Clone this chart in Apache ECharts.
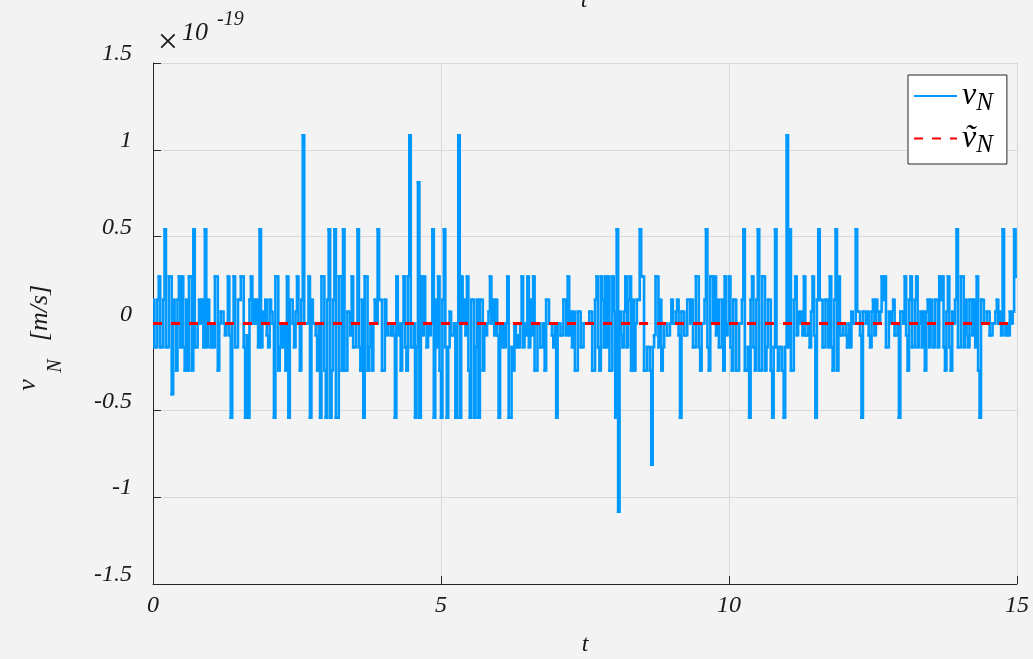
<!DOCTYPE html>
<html><head><meta charset="utf-8">
<script src="https://cdn.jsdelivr.net/npm/echarts@6/dist/echarts.min.js"></script>
<style>html,body{margin:0;padding:0;background:#f3f3f3}#c{width:1033px;height:659px}</style>
</head><body><div id="c"></div>
<script>
// sample period of the plotted signal (s); each sample is read as two half-sample levels
const dt = 0.05;
// v_N, first half of each sample (units of 1e-19 m/s)
const vA = [
 .136,-.136,.271,-.136,.542,-.136,.271,.136,-.271,.271,
 .271,-.271,-.271,.271,.542,-.136,.136,.136,.542,.136,
 -.136,-.136,.271,0,.068,-.068,.271,-.542,.271,-.136,
 .136,.271,-.542,-.542,.271,.136,.136,.542,.068,.136,
 -.136,.068,-.542,.271,-.136,-.136,-.271,-.542,.136,-.136,
 .271,-.271,1.084,0,.271,.136,0,-.271,-.542,.271,
 -.542,.542,-.271,.542,-.542,.271,.542,-.271,.068,.271,
 -.136,.542,-.271,-.542,.271,-.136,-.271,.136,.542,.136,
 -.271,-.068,0,0,-.542,-.068,-.271,.271,-.271,1.084,
 -.136,-.542,.813,.271,.271,-.136,-.068,.542,.136,.271,
 -.542,.542,-.542,.068,-.068,-.542,1.084,.271,.136,.271,
 -.542,.136,-.136,-.542,.136,0,0,.271,.136,.136,
 -.542,-.136,-.136,.271,-.542,-.271,-.136,-.136,.271,0,
 .271,.136,.271,-.271,0,-.136,-.271,.136,0,-.136,
 -.542,0,-.068,.136,.271,.068,.068,-.271,.068,-.136,
 0,0,.068,-.271,.271,-.271,.136,.271,.271,-.271,
 .068,.542,.068,-.136,.271,.136,-.271,-.271,.136,.542,
 .271,-.271,-.136,-.813,-.068,.271,.136,-.136,0,-.068,
 .136,0,.136,-.542,.068,-.068,.136,.136,-.136,.271,
 -.271,0,.542,-.271,.271,.271,.136,-.136,-.271,-.068,
 .271,-.271,.136,-.271,0,.542,-.271,-.542,.271,-.271,
 .542,-.271,.271,-.136,.136,-.542,.542,-.271,-.136,-.542,
 1.084,.542,-.271,.271,.068,.068,.271,-.068,-.136,.271,
 -.542,.542,.136,-.136,.136,.271,-.271,.542,.271,-.068,
 0,-.136,-.136,0,.542,.068,-.542,.068,.068,-.136,
 .136,.136,0,.271,.271,-.136,0,.136,-.068,-.542,
 .068,.271,-.271,.271,-.136,.271,0,-.136,-.271,.136,
 .136,-.136,.136,.271,.271,-.271,.271,-.271,0,.542,
 -.136,.271,.136,-.136,.136,.136,.271,-.542,.136,0,
 .068,-.068,0,.136,.068,.542,-.068,-.068,0,.542,
 .271
];
// v_N, second half of each sample (units of 1e-19 m/s)
const vB = [
 -.136,.136,-.136,.136,-.136,.271,-.407,0,.136,-.136,
 -.136,.136,.271,-.271,-.136,0,0,-.136,-.136,0,
 0,.271,-.271,.068,0,0,-.068,0,-.136,.136,
 .271,-.136,-.068,.136,0,0,-.136,-.136,0,-.068,
 .136,0,.271,-.271,0,0,.271,.136,0,.068,
 0,.136,0,0,-.542,0,-.068,0,.271,-.271,
 .136,-.542,.136,-.542,.271,-.271,-.271,.068,-.068,-.136,
 0,-.136,.136,.271,-.271,0,0,0,.136,-.271,
 .136,0,-.068,-.068,.271,0,0,-.136,.271,-.136,
 0,-.136,-.542,-.068,0,0,0,-.542,-.136,-.271,
 .136,-.136,-.136,-.068,0,0,-.542,0,-.068,-.271,
 .136,-.542,.136,.136,-.271,-.068,.068,0,-.068,-.068,
 0,0,0,-.542,-.136,0,-.068,0,-.136,-.068,
 -.136,-.068,-.271,0,-.136,0,.136,0,-.068,0,
 0,-.068,.136,-.068,-.068,-.136,-.271,.068,-.136,0,
 0,.068,-.271,.136,-.136,.271,-.136,-.136,-.271,.271,
 -.542,-1.084,-.068,.068,-.136,.271,.136,0,.136,.271,
 -.271,-.136,-.271,-.136,.271,-.136,-.271,0,-.068,0,
 0,.068,-.068,.068,-.068,.136,0,-.136,.271,-.136,
 0,.136,-.136,.271,0,-.068,-.136,.136,.271,0,
 -.136,.136,-.271,0,.136,-.271,-.136,.136,-.136,.136,
 -.271,.271,-.271,.136,-.271,-.136,-.136,-.136,-.271,-.136,
 -.136,-.271,.136,-.068,0,-.068,-.068,0,.068,-.068,
 .136,.136,-.136,.136,-.136,-.136,.136,-.271,-.068,0,
 -.068,0,.068,0,.068,-.068,.068,0,-.068,.068,
 -.068,.068,.068,.136,-.136,.068,.068,-.068,0,.068,
 0,-.068,.136,-.136,.136,-.136,.068,.068,.068,-.136,
 0,.136,-.136,.136,-.136,.068,-.136,.068,.136,-.136,
 .271,-.136,-.068,.136,-.068,-.136,-.271,.136,0,.068,
 -.068,0,.068,0,-.068,0,0,.068,.068,.271,
 0
];
// estimated signal (constant zero)
const vTildeT = [0, 15];
const vTildeN = [0, 0];
// axis ticks
const xTicks = {min: 0, max: 15, step: 5};
const yTicks = {min: -1.5, max: 1.5, step: 0.5};

const serif = '"Liberation Serif","Times New Roman","DejaVu Serif",serif';
const ink = '#1a1a1a';
const blue = '#0099ff';
const chart = echarts.init(document.getElementById('c'), null, {renderer: 'canvas'});
// held levels: [start time, level]
const levels = [];
vA.forEach((v, i) => {
  const t = i * dt;
  levels.push([t, v]);
  if (t + dt / 2 < xTicks.max) levels.push([t + dt / 2, vB[i]]);
});
// each item: [t0, level, t1, next level]  (zero-order hold)
const holdData = levels.map((p, k) => {
  const nxt = levels[k + 1];
  return nxt ? [p[0], p[1], nxt[0], nxt[1]] : [p[0], p[1], xTicks.max, p[1]];
});
const redData = vTildeT.map((t, i) => [t, vTildeN[i]]);

chart.setOption({
  animation: false,
  backgroundColor: '#f3f3f3',
  grid: {left: 153, right: 16, top: 63, bottom: 75, containLabel: false},
  xAxis: {
    type: 'value', min: xTicks.min, max: xTicks.max, interval: xTicks.step,
    axisLine: {show: true, onZero: false, lineStyle: {color: '#262626', width: 1}},
    axisTick: {show: true, inside: true, length: 8, lineStyle: {color: '#262626'}},
    splitLine: {show: true, lineStyle: {color: '#d9d9d9', width: 1}},
    axisLabel: {fontFamily: serif, fontStyle: 'italic', fontSize: 24, color: ink, margin: 10}
  },
  yAxis: {
    type: 'value', min: yTicks.min, max: yTicks.max, interval: yTicks.step,
    axisLine: {show: true, onZero: false, lineStyle: {color: '#262626', width: 1}},
    axisTick: {show: true, inside: true, length: 8, lineStyle: {color: '#262626'}},
    splitLine: {show: true, lineStyle: {color: '#d9d9d9', width: 1}},
    axisLabel: {fontFamily: serif, fontStyle: 'italic', fontSize: 24, color: ink, margin: 21,
      verticalAlign: 'bottom', lineHeight: 18,
      formatter: v => String(v)}
  },
  legend: {
    orient: 'vertical', left: 908, top: 75,
    itemWidth: 43, itemHeight: 14, itemGap: 7,
    padding: [5, 14, 6, 5],
    backgroundColor: '#ffffff', borderColor: '#262626', borderWidth: 1, borderRadius: 0,
    itemStyle: {opacity: 0},
    data: ['vN', 'vtN'],
    formatter: n => n === 'vN' ? '{v|v}{n|N}' : '{v|ṽ}{n|N}',
    textStyle: {
      rich: {
        v: {fontFamily: serif, fontStyle: 'italic', fontSize: 32, color: '#000'},
        n: {fontFamily: serif, fontStyle: 'italic', fontSize: 25, color: '#000', padding: [14, 0, 0, 0]}
      }
    }
  },
  series: [
    {name: 'vN', type: 'line', data: [], symbol: 'none', showSymbol: false,
     lineStyle: {color: blue, width: 2.6}, itemStyle: {color: blue}},
    {name: 'vN-hold', type: 'custom', data: holdData, clip: true, silent: true,
     encode: {x: [0, 2], y: [1, 3]},
     renderItem: (params, api) => {
       const p0 = api.coord([api.value(0), api.value(1)]);
       const p1 = api.coord([api.value(2), api.value(1)]);
       const p2 = api.coord([api.value(2), api.value(3)]);
       return {type: 'polyline', shape: {points: [p0, p1, p2]},
         style: {stroke: blue, lineWidth: 2.6, fill: null, lineJoin: 'miter', lineCap: 'square'}};
     }},
    {name: 'vtN', type: 'line', data: redData, symbol: 'none', showSymbol: false, z: 3,
     lineStyle: {color: '#ff0000', width: 3, type: [9, 9]}, itemStyle: {color: '#ff0000'}}
  ],
  graphic: [
    {type: 'text', x: 584, y: 13, style: {text: 't', font: 'italic 24px ' + serif, fill: ink, align: 'center', verticalAlign: 'bottom'}},
    {type: 'text', x: 168, y: 44, style: {text: '×', font: '36px ' + serif, fill: ink, align: 'center', verticalAlign: 'middle'}},
    {type: 'text', x: 182, y: 33, style: {text: '10', font: 'italic 26px ' + serif, fill: ink, align: 'left', verticalAlign: 'middle'}},
    {type: 'text', x: 217, y: 20, style: {text: '-19', font: 'italic 20px ' + serif, fill: ink, align: 'left', verticalAlign: 'middle'}},
    {type: 'text', x: 585, y: 645, style: {text: 't', font: 'italic 24px ' + serif, fill: ink, align: 'center', verticalAlign: 'middle'}},
    {type: 'text', x: 28, y: 385, rotation: Math.PI / 2, style: {text: 'v', font: 'italic 26px ' + serif, fill: ink, align: 'center', verticalAlign: 'middle'}},
    {type: 'text', x: 56, y: 366, rotation: Math.PI / 2, style: {text: 'N', font: 'italic 20px ' + serif, fill: ink, align: 'center', verticalAlign: 'middle'}},
    {type: 'text', x: 40, y: 313, rotation: Math.PI / 2, style: {text: '[m/s]', font: 'italic 26px ' + serif, fill: ink, align: 'center', verticalAlign: 'middle'}}
  ]
});
</script>
</body></html>
